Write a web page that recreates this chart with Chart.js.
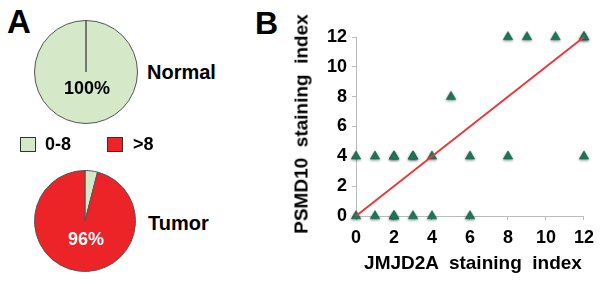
<!DOCTYPE html>
<html>
<head>
<meta charset="utf-8">
<script src="https://cdn.jsdelivr.net/npm/chart.js@4.4.1/dist/chart.umd.min.js"></script>
<style>
  html, body { margin:0; padding:0; background:#fff; }
  body { width:601px; height:285px; position:relative; overflow:hidden;
         font-family:"Liberation Sans", Arial, sans-serif; font-weight:bold; color:#000; }
  .t { position:absolute; white-space:pre; font-weight:bold; }
  canvas { position:absolute; }
  .sq { position:absolute; width:14px; height:13px; border:1px solid #333; }
</style>
</head>
<body>
<div class="t" style="left:7px; top:5px; font-size:33px; line-height:33px;">A</div>
<div class="t" style="left:255px; top:7px; font-size:32px; line-height:32px;">B</div>

<canvas id="pieN" width="104" height="104" style="left:34px; top:20px;"></canvas>
<canvas id="pieT" width="102" height="102" style="left:34px; top:170px;"></canvas>
<div class="t" style="left:64px; top:79px; width:44px; text-align:center; font-size:18px; line-height:18px; color:#000;">100%</div>
<div class="t" style="left:64px; top:230px; width:44px; text-align:center; font-size:18px; line-height:18px; color:#fff;">96%</div>
<div class="t" style="left:147px; top:62px; font-size:20px; line-height:20px;">Normal</div>
<div class="t" style="left:148px; top:213px; font-size:20px; line-height:20px;">Tumor</div>

<div class="sq" style="left:20px; top:137px; background:#d5e8c8;"></div>
<div class="t" style="left:45px; top:135px; font-size:18px; line-height:18px;">0-8</div>
<div class="sq" style="left:107px; top:137px; background:#ec2327;"></div>
<div class="t" style="left:133px; top:135px; font-size:18px; line-height:18px;">&gt;8</div>

<canvas id="sc" width="301" height="285" style="left:300px; top:0px;"></canvas>
<div class="t" style="left:301px; top:124px; font-size:19px; line-height:19px; transform:translate(-50%,-50%) rotate(-90deg);">PSMD10  staining  index</div>
<div class="t" style="left:473px; top:253px; font-size:19px; line-height:19px; transform:translateX(-50%);">JMJD2A  staining  index</div>

<script>
// ---- data ----
const pieLabels = ['0-8', '>8'];
const normalValues = [100, 0];
const tumorValues = [4, 96];
const pieColors = ['#d5e8c8', '#ec2327'];

const jmjd2a = [0, 1, 2, 2, 3, 4, 6,   0, 1, 2, 2, 3, 3, 4, 6, 8, 12,   5,   8, 9, 10.5, 12, 12];
const psmd10 = [0, 0, 0, 0, 0, 0, 0,   4, 4, 4, 4, 4, 4, 4, 4, 4, 4,    8,   12, 12, 12, 12, 12];
const fitX = [0, 12];
const fitY = [0, 12];
const tickValues = [0, 2, 4, 6, 8, 10, 12];

const FONT = '"Liberation Sans", Arial, sans-serif';

function pie(id, values) {
  new Chart(document.getElementById(id), {
    type: 'pie',
    data: { labels: pieLabels, datasets: [{ data: values, backgroundColor: pieColors,
            borderColor: '#555', borderWidth: 1 }] },
    options: { responsive: false, animation: false,
      layout: { padding: 0 },
      plugins: { legend: { display: false }, tooltip: { enabled: false } } }
  });
}
pie('pieN', normalValues);
pie('pieT', tumorValues);

const shadow = {
  id: 'shadow',
  beforeDatasetDraw(chart, args) {
    if (args.index === 0) {
      const c = chart.ctx; c.save();
      c.shadowColor = 'rgba(0,0,0,0.45)'; c.shadowBlur = 3; c.shadowOffsetY = 1;
    }
  },
  afterDatasetDraw(chart, args) { if (args.index === 0) chart.ctx.restore(); }
};

const pts = jmjd2a.map((x, i) => ({ x: x, y: psmd10[i] }));
const line = fitX.map((x, i) => ({ x: x, y: fitY[i] }));

const axisCommon = (fit) => ({
  type: 'linear', min: 0, max: 12,
  afterBuildTicks: s => { s.ticks = tickValues.map(v => ({ value: v })); },
  ticks: { color: '#000', font: { family: FONT, size: 18, weight: 'bold' } },
  grid: { drawOnChartArea: false, drawTicks: true, tickLength: 4, color: '#bbb' },
  border: { display: true, color: '#bbb', width: 1 },
  afterFit: fit
});

const xAxis = axisCommon(s => { s.height = 69; });
xAxis.ticks.padding = 7;
const yAxis = axisCommon(s => { s.width = 56; });
yAxis.ticks.padding = 5;

new Chart(document.getElementById('sc'), {
  type: 'scatter',
  data: { datasets: [
    { data: pts, pointStyle: 'triangle', pointRadius: 5.5, backgroundColor: '#1c7c5c',
      borderColor: '#175f48', borderWidth: 0.5, clip: false, order: 1 },
    { type: 'line', data: line, borderColor: '#e8393c', borderWidth: 2, pointRadius: 0,
      showLine: true, fill: false, clip: false, order: 0 }
  ] },
  options: { responsive: false, animation: false,
    layout: { padding: { left: 0, right: 16, top: 37, bottom: 0 } },
    plugins: { legend: { display: false }, tooltip: { enabled: false } },
    scales: { x: xAxis, y: yAxis } },
  plugins: [shadow]
});
</script>
</body>
</html>
